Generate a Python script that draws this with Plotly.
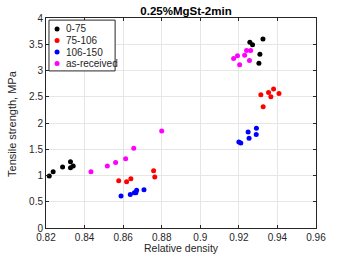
import plotly.graph_objects as go

series_names = ["0-75", "75-106", "106-150", "as-received"]
series_colors = ["#000000", "#ff0000", "#0000ff", "#ff00ff"]

x_0_75 = [0.8217, 0.8237, 0.8286, 0.8327, 0.8327, 0.8341, 0.9257, 0.9271, 0.9325, 0.9309, 0.9304]
y_0_75 = [0.99, 1.07, 1.16, 1.26, 1.15, 1.18, 3.54, 3.49, 3.60, 3.31, 3.14]

x_75_106 = [0.8577, 0.8618, 0.8640, 0.8758, 0.8764, 0.9314, 0.9354, 0.9380, 0.9366, 0.9408, 0.9326]
y_75_106 = [0.90, 0.88, 0.94, 1.09, 0.97, 2.54, 2.58, 2.65, 2.50, 2.56, 2.31]

x_106_150 = [0.8589, 0.8637, 0.8658, 0.8666, 0.8670, 0.8708, 0.9200, 0.9210, 0.9248, 0.9253, 0.9290, 0.9291]
y_106_150 = [0.61, 0.64, 0.67, 0.67, 0.72, 0.73, 1.64, 1.62, 1.83, 1.71, 1.78, 1.90]

x_asrec = [0.8433, 0.8518, 0.8561, 0.8613, 0.8655, 0.8800, 0.9173, 0.9193, 0.9204, 0.9230, 0.9240, 0.9261, 0.9255]
y_asrec = [1.07, 1.18, 1.25, 1.32, 1.52, 1.85, 3.23, 3.28, 3.11, 3.29, 3.38, 3.38, 3.19]

x_ticks = [0.82, 0.84, 0.86, 0.88, 0.9, 0.92, 0.94, 0.96]
x_tick_labels = ["0.82", "0.84", "0.86", "0.88", "0.9", "0.92", "0.94", "0.96"]
y_ticks = [0, 0.5, 1, 1.5, 2, 2.5, 3, 3.5, 4]
y_tick_labels = ["0", "0.5", "1", "1.5", "2", "2.5", "3", "3.5", "4"]

title_text = "0.25%MgSt-2min"
x_title = "Relative density"
y_title = "Tensile strength, MPa"

data = [(x_0_75, y_0_75), (x_75_106, y_75_106), (x_106_150, y_106_150), (x_asrec, y_asrec)]

FONT = "Liberation Sans, Arial, Helvetica"
TXT = "#262626"

fig = go.Figure()
for (xs, ys), name, col in zip(data, series_names, series_colors):
    fig.add_trace(go.Scatter(x=xs, y=ys, mode="markers", name=name, showlegend=False,
                             marker=dict(color=col, size=5, line=dict(width=0))))

# compact MATLAB-style legend box (paper coordinates of the plot area)
fig.add_shape(type="rect", xref="paper", yref="paper", x0=0.011, x1=0.256, y0=0.748, y1=0.990,
              line=dict(color=TXT, width=1), fillcolor="white", layer="above")
legend_y = [0.948, 0.893, 0.838, 0.783]
for name, col, ly in zip(series_names, series_colors, legend_y):
    fig.add_shape(type="circle", xref="paper", yref="paper", xsizemode="pixel", ysizemode="pixel",
                  xanchor=0.041, yanchor=ly, x0=-2.5, x1=2.5, y0=-2.5, y1=2.5,
                  fillcolor=col, line=dict(width=0), layer="above")
    fig.add_annotation(x=0.067, y=ly, xref="paper", yref="paper", xanchor="left", yanchor="middle",
                       text=name, showarrow=False, font=dict(family=FONT, size=10, color=TXT))

# axis titles
fig.add_annotation(x=0.5, y=-0.096, xref="paper", yref="paper", xanchor="center", yanchor="middle",
                   text=x_title, showarrow=False, font=dict(family=FONT, size=10.5, color=TXT))
fig.add_annotation(x=-0.126, y=0.5, xref="paper", yref="paper", xanchor="center", yanchor="middle",
                   text=y_title, textangle=-90, showarrow=False,
                   font=dict(family=FONT, size=11, color=TXT))

axis_common = dict(showline=True, linecolor=TXT, linewidth=1, mirror="ticks",
                   ticks="inside", ticklen=3, tickcolor=TXT, automargin=False,
                   showgrid=True, gridcolor="#e6e6e6", gridwidth=1, zeroline=False,
                   tickfont=dict(family=FONT, size=10, color=TXT))

fig.update_layout(
    width=349, height=254,
    margin=dict(l=46, r=33, t=18, b=26),
    paper_bgcolor="white", plot_bgcolor="white",
    title=dict(text="<b>" + title_text + "</b>", x=181/349, xanchor="center", xref="paper",
               y=1 - 11/254, yanchor="middle",
               font=dict(family=FONT, size=11.5, color="black")),
    xaxis=dict(range=[0.82, 0.96], tickvals=x_ticks, ticktext=x_tick_labels, **axis_common),
    yaxis=dict(range=[0, 4], tickvals=y_ticks, ticktext=y_tick_labels, **axis_common),
    showlegend=False,
)

fig.write_html("out.html", config={"displayModeBar": False},
               post_script="document.body.style.margin='0px';document.body.style.overflow='hidden';")
